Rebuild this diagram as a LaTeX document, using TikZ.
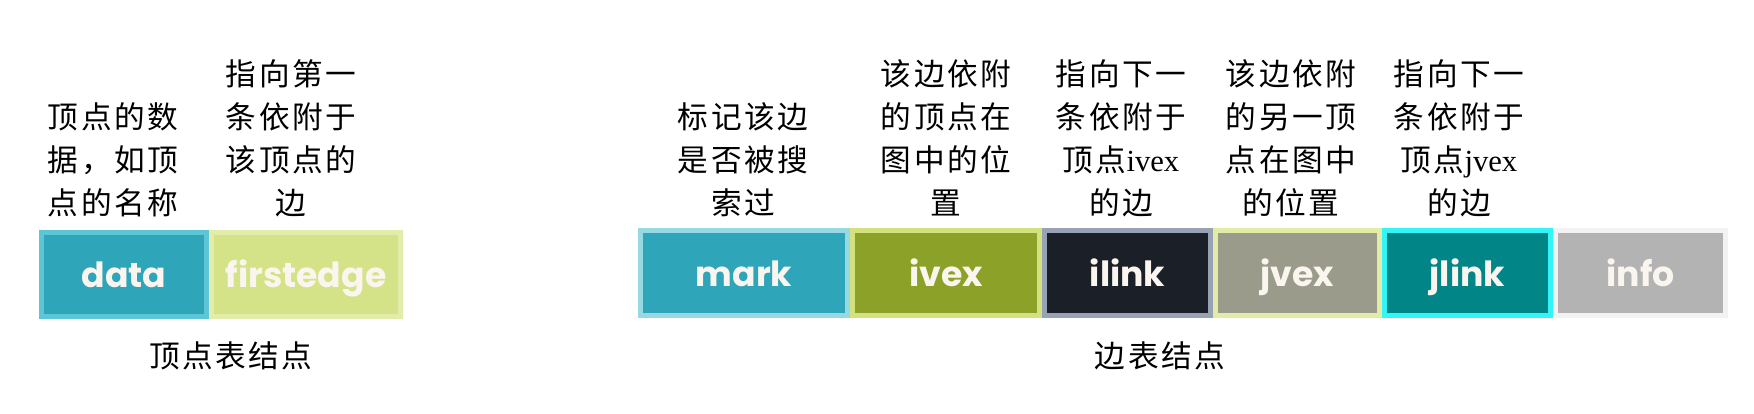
\documentclass[tikz,border=0pt]{standalone}
\usepackage{fontspec}
\setmainfont{Liberation Serif}
\newfontfamily\cjk{Noto Sans CJK SC}[LetterSpace=8]
\newfontfamily\boxfont{Poppins}
\newcommand\lastdp{\rule[-10pt]{0pt}{10pt}}
\definecolor{dataF}{HTML}{2EA5B8}\definecolor{dataB}{HTML}{5CC6D6}
\definecolor{firstF}{HTML}{D5E388}\definecolor{firstB}{HTML}{E3EDA9}
\definecolor{markF}{HTML}{2EA5B8}\definecolor{markB}{HTML}{96D9E2}
\definecolor{ivexF}{HTML}{8CA128}\definecolor{ivexB}{HTML}{D3E17F}
\definecolor{ilinkF}{HTML}{1B1F27}\definecolor{ilinkB}{HTML}{97A3B4}
\definecolor{jvexF}{HTML}{9A9B8B}\definecolor{jvexB}{HTML}{E3ECA7}
\definecolor{jlinkF}{HTML}{018587}\definecolor{jlinkB}{HTML}{33F5F8}
\definecolor{infoF}{HTML}{B3B3B3}\definecolor{infoB}{HTML}{F2F2F2}
\definecolor{boxtxt}{HTML}{FAF6EF}
\tikzset{
  cell/.style={line width=3.75pt, inner sep=0pt, text height=20pt, text depth=0pt,
    font=\boxfont\bfseries\fontsize{26}{30}\selectfont, text=boxtxt},
  note/.style={align=center, inner sep=0pt, anchor=south, font=\cjk\fontsize{23}{32.25}\selectfont},
  caption/.style={inner sep=0pt, anchor=base, font=\cjk\fontsize{23}{28}\selectfont}
}
\begin{document}
\begin{tikzpicture}[x=0.75pt,y=-0.75pt]
\useasboundingbox[fill=white] (0,0) rectangle (1754,414);
% vertex node
\node[cell, fill=dataF, draw=dataB, minimum width=123.75pt, minimum height=63pt] (data) at (124,274.5) {data};
\node[cell, fill=firstF, draw=firstB, minimum width=141.75pt, minimum height=63pt] (first) at (306,274.5) {firstedge};
% edge node
\node[cell, fill=markF, draw=markB, minimum width=155.25pt, minimum height=63.75pt] (mark) at (744,273) {mark};
\node[cell, fill=ivexF, draw=ivexB, minimum width=140.25pt, minimum height=63.75pt] (ivex) at (946,273) {ivex};
\node[cell, fill=ilinkF, draw=ilinkB, minimum width=124.5pt, minimum height=63.75pt] (ilink) at (1127.5,273) {ilink};
\node[cell, fill=jvexF, draw=jvexB, minimum width=123pt, minimum height=63.75pt] (jvex) at (1297.5,273) {jvex};
\node[cell, fill=jlinkF, draw=jlinkB, minimum width=124.5pt, minimum height=63.75pt] (jlink) at (1467.5,273) {jlink};
\node[cell, fill=infoF, draw=infoB, minimum width=127.5pt, minimum height=63.75pt] (info) at (1640.5,273) {info};
% notes
\node[note] (ndata) at (113,228) {顶点的数\\据，如顶\\点的名称\lastdp};
\node[note] (nfirst) at (291,228) {指向第一\\条依附于\\该顶点的\\边\lastdp};
\node[note] (nmark) at (743,228) {标记该边\\是否被搜\\索过\lastdp};
\node[note] (nivex) at (946,228) {该边依附\\的顶点在\\图中的位\\置\lastdp};
\node[note] (nilink) at (1121,228) {指向下一\\条依附于\\顶点{\rmfamily ivex}\\的边\lastdp};
\node[note] (njvex) at (1291,228) {该边依附\\的另一顶\\点在图中\\的位置\lastdp};
\node[note] (njlink) at (1459,228) {指向下一\\条依附于\\顶点{\rmfamily jvex}\\的边\lastdp};
% captions
\node[caption] (cvert) at (231,367) {顶点表结点};
\node[caption] (cedge) at (1160,367) {边表结点};
\end{tikzpicture}
\end{document}
